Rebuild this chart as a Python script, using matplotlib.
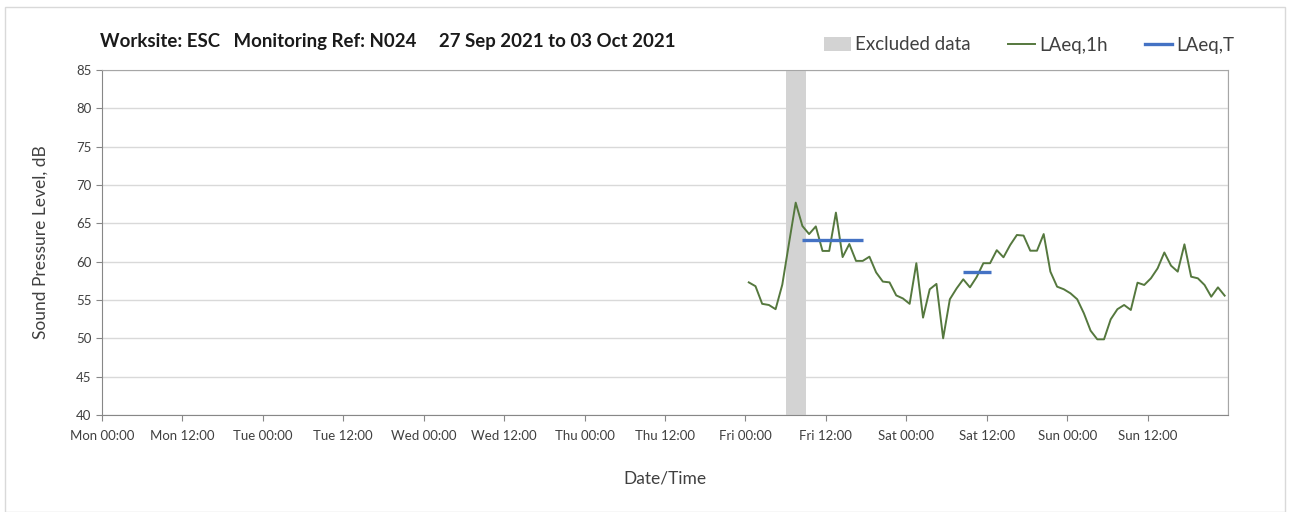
import matplotlib
matplotlib.use("Agg")
import matplotlib.pyplot as plt
import matplotlib.patches as mpatches
from matplotlib.lines import Line2D

plt.rcParams['font.family'] = ['Lato', 'DejaVu Sans']

# hourly LAeq,1h values from Fri 00:00 onwards (plotted at mid-hour)
fri_start = 96
laeq_1h = [57.3, 56.8, 54.5, 54.35, 53.8, 57.0, 62.4, 67.7, 64.65, 63.6,
           64.6, 61.4, 61.4, 66.4, 60.6, 62.3, 60.1, 60.1, 60.65, 58.6,
           57.4, 57.3, 55.6, 55.2, 54.5, 59.8, 52.7, 56.4, 57.1, 50.0,
           55.1, 56.5, 57.7, 56.65, 58.0, 59.8, 59.8, 61.5, 60.57, 62.17,
           63.48, 63.4, 61.43, 61.43, 63.6, 58.7, 56.74, 56.4, 55.87, 55.1,
           53.26, 51.0, 49.87, 49.87, 52.48, 53.8, 54.35, 53.7, 57.26, 56.96,
           57.83, 59.13, 61.2, 59.48, 58.7, 62.26, 58.04, 57.83, 56.96, 55.43,
           56.65, 55.57]
hours = [fri_start + i + 0.5 for i in range(len(laeq_1h))]

# LAeq,T periods (start hour, end hour, level)
laeqt_start = [104.4, 128.4]
laeqt_end = [113.55, 132.6]
laeqt_level = [62.83, 58.6]

# excluded data (hours from Mon 00:00)
excl_start = 102
excl_end = 105

tick_labels = ['Mon 00:00', 'Mon 12:00', 'Tue 00:00', 'Tue 12:00', 'Wed 00:00',
               'Wed 12:00', 'Thu 00:00', 'Thu 12:00', 'Fri 00:00', 'Fri 12:00',
               'Sat 00:00', 'Sat 12:00', 'Sun 00:00', 'Sun 12:00']

fig = plt.figure(figsize=(12.95, 5.12), dpi=100)
ax = fig.add_axes([102/1295, 1-415/512, (1228-102)/1295, (415-70)/512])

green = '#55783e'
blue = '#4472c4'
grey_band = '#d3d3d3'
text_col = '#404040'

ax.axvspan(excl_start, excl_end, color=grey_band, lw=0, zorder=1)
ax.plot(hours, laeq_1h, color=green, lw=1.4, zorder=3)
for s, e, v in zip(laeqt_start, laeqt_end, laeqt_level):
    ax.plot([s, e], [v, v], color=blue, lw=2.4, solid_capstyle='butt', zorder=4)

ax.set_xlim(0, 168)
ax.set_ylim(40, 85)
ax.set_xticks([12*i for i in range(len(tick_labels))])
ax.set_xticklabels(tick_labels)
ax.set_xticks(range(0, 169, 24), minor=True)
ax.set_yticks(range(40, 86, 5))
ax.grid(True, axis='y', color='#d9d9d9', lw=1.0, zorder=0)
ax.grid(True, axis='x', which='minor', color='#d9d9d9', lw=1.0, zorder=0)
ax.tick_params(axis='x', which='minor', length=0)
ax.set_axisbelow(True)
ax.tick_params(axis='both', colors='#878787', labelcolor=text_col, labelsize=9.5,
               direction='out', length=4)
ax.tick_params(axis='x', pad=7)
for sp in ax.spines.values():
    sp.set_color('#a6a6a6')
ax.spines['left'].set_color('#878787')
ax.spines['bottom'].set_color('#878787')

ax.set_ylabel('Sound Pressure Level, dB', fontsize=12.5, color=text_col, labelpad=20)
ax.set_xlabel('Date/Time', fontsize=12.5, color=text_col, labelpad=20)

fig.text(100/1295, 1-42/512, 'Worksite: ESC   Monitoring Ref: N024     27 Sep 2021 to 03 Oct 2021',
         fontsize=13.4, fontweight='bold', color='#1a1a1a', va='center')

handles = [mpatches.Patch(color=grey_band, lw=0),
           Line2D([], [], color=green, lw=1.4),
           Line2D([], [], color=blue, lw=2.4)]
fig.legend(handles, ['Excluded data', 'LAeq,1h', 'LAeq,T'], ncol=3, frameon=False,
           loc='center right', bbox_to_anchor=(1251/1295, 1-45/512), fontsize=13.5,
           handlelength=1.45, handletextpad=0.2, columnspacing=2.0, labelcolor=text_col)

# outer chart border
fig.patches.append(mpatches.Rectangle((5/1295, 0), 1280/1295, 1-7/512, transform=fig.transFigure,
                                      fill=False, edgecolor='#d9d9d9', lw=1))

fig.savefig('out.png', dpi=100)
